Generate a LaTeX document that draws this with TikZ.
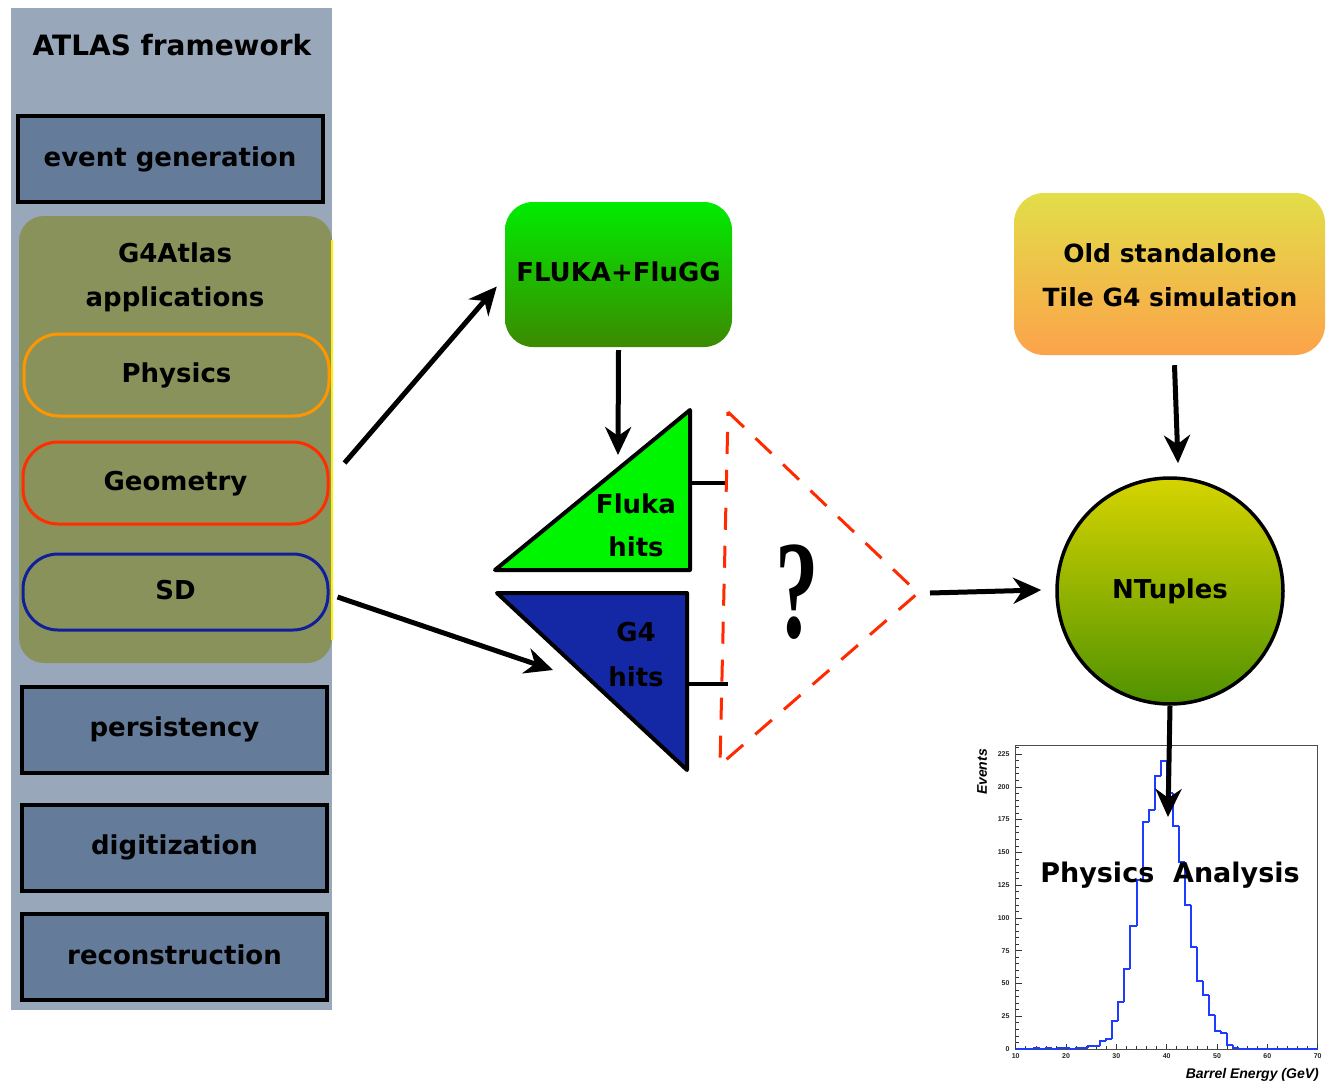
\documentclass[tikz,border=0pt]{standalone}
\usepackage{fontspec}
\setmainfont{DejaVu Sans}
\newfontfamily\hel{Liberation Sans}
\newfontfamily\qfont{Liberation Serif}
\usetikzlibrary{arrows.meta,calc}
\definecolor{panelbg}{RGB}{152,167,186}
\definecolor{boxbg}{RGB}{100,124,154}
\definecolor{olivebg}{RGB}{138,146,92}
\definecolor{physc}{RGB}{255,150,0}
\definecolor{geomc}{RGB}{255,45,0}
\definecolor{sdc}{RGB}{16,32,154}
\definecolor{flukatop}{RGB}{0,236,0}
\definecolor{flukabot}{RGB}{60,138,0}
\definecolor{oldtop}{RGB}{226,222,72}
\definecolor{oldbot}{RGB}{252,163,74}
\definecolor{ntop}{RGB}{214,212,0}
\definecolor{nbot}{RGB}{80,146,0}
\definecolor{trigreen}{RGB}{0,245,0}
\definecolor{triblue}{RGB}{20,40,166}
\definecolor{dashred}{RGB}{255,42,0}
\definecolor{histblue}{RGB}{30,60,255}
\tikzset{
  lbl/.style={font=\fontsize{26}{30}\selectfont\bfseries, inner sep=0pt, text height=19pt, text depth=5pt},
  fwbox/.style={draw=black, line width=4pt, fill=boxbg, minimum width=305pt, minimum height=86pt, lbl},
  subbox/.style={draw, line width=3pt, fill=olivebg, rounded corners=35pt, minimum width=305pt, lbl},
  arr/.style={line width=5pt, -{Stealth[length=28pt,width=26pt,inset=9pt]}},
  tick/.style={line width=0.6pt, black!80},
  ticklbl/.style={font=\hel\bfseries\fontsize{7}{8}\selectfont, inner sep=0pt, black!85}
}
\begin{document}
\begin{tikzpicture}[x=1pt,y=-1pt]
\useasboundingbox (0,0) rectangle (1333,1084);
\fill[white] (0,0) rectangle (1333,1084);

% left panel
\fill[panelbg] (11,8) rectangle (332,1010);
\node[lbl, font=\fontsize{28}{32}\selectfont\bfseries] (atlas) at (172,48) {ATLAS framework};
\node[fwbox] (evgen) at (170,159) {event generation};
\node[fill=olivebg, rounded corners=25pt, minimum width=313pt, minimum height=447pt, inner sep=0pt] (g4box) at (175.5,439.5) {};
\draw[yellow, line width=1.5pt] (332,240) -- (332,640);
\node[lbl] (g4txt1) at (175,255) {G4Atlas};
\node[lbl] (g4txt2) at (175,299) {applications};
\node[subbox, draw=physc, minimum height=82pt] (phys) at (176.5,375) {Physics};
\node[subbox, draw=geomc, minimum height=82pt] (geom) at (175.5,483) {Geometry};
\node[subbox, draw=sdc, minimum height=76pt] (sd) at (175.5,592) {SD};
\node[fwbox] (pers) at (174.5,729.5) {persistency};
\node[fwbox] (digi) at (174.5,847.5) {digitization};
\node[fwbox] (reco) at (174.5,957) {reconstruction};

% FLUKA box
\node[lbl, rounded corners=28pt, top color=flukatop, bottom color=flukabot, minimum width=227pt, minimum height=145pt] (fluka) at (618.5,274.5) {FLUKA+FluGG};

% Old standalone
\node[rounded corners=30pt, top color=oldtop, bottom color=oldbot, minimum width=311pt, minimum height=162pt] (old) at (1169.5,274) {};
\node[lbl, font=\fontsize{25}{30}\selectfont\bfseries] (old1) at (1170,255) {Old standalone};
\node[lbl, font=\fontsize{25}{30}\selectfont\bfseries] (old2) at (1170,299) {Tile G4 simulation};

% NTuples
\node[lbl, circle, draw=black, line width=3.5pt, top color=ntop, bottom color=nbot, minimum size=226pt] (ntup) at (1170,591) {NTuples};

% triangles
\draw[line width=4pt, fill=trigreen, line join=round] (495,570) -- (690,410) -- (690,570) -- cycle;
\node[lbl] (flk1) at (636,506) {Fluka};
\node[lbl] (flk2) at (636,549) {hits};
\draw[line width=4pt, fill=triblue, line join=round] (497,593) -- (687,593) -- (687,770) -- cycle;
\node[lbl] (g41) at (636,634) {G4};
\node[lbl] (g42) at (636,679) {hits};
\coordinate (stubA0) at (690,483);
\coordinate (stubA1) at (728,483);
\coordinate (stubB0) at (687,684);
\coordinate (stubB1) at (728,684);
\draw[line width=4pt] (stubA0) -- (stubA1);
\draw[line width=4pt] (stubB0) -- (stubB1);

% red dashed triangle
\coordinate (qtop) at (728,412);
\coordinate (qapex) at (918,593);
\coordinate (qbot) at (720,765);
\draw[dashred, line width=3pt, dash pattern=on 22pt off 16pt] (qtop) -- (qapex) -- (qbot) -- cycle;
\node[inner sep=0pt, xscale=0.62, font=\qfont\bfseries\fontsize{140}{140}\selectfont] (qm) at (797,592) {?};

% histogram
\begin{scope}[shift={(1015.7,1049)}, x=5.033pt, y=1.311pt]
  \draw[line width=0.7pt, black!70] (0,0) rectangle (60,232);
  \foreach \v in {0,25,...,225} {
    \draw[tick] (0,\v) -- ++(1.2,0);
    \node[ticklbl, anchor=east] (yl\v) at (-1.2,\v) {\v};
  }
  \foreach \v in {5,10,...,230} \draw[tick] (0,\v) -- ++(0.6,0);
  \foreach \e in {10,20,...,70} {
    \pgfmathtruncatemacro{\ex}{\e-10}
    \draw[tick] (\ex,0) -- ++(0,4);
    \node[ticklbl, anchor=north] (xl\e) at (\ex,-3) {\e};
  }
  \foreach \e in {2,4,...,58} \draw[tick] (\e,0) -- ++(0,2);
  \foreach \v [count=\k from 0, remember=\v as \pv (initially 0)] in {0,0,0,1,0,1,0,1,1,0,1,1,2,2,6,8,21,36,61,94,129,173,182,208,220,195,170,143,110,78,52,41,26,14,12,3,1,0,0,0,0,0,0,0,0,0,0,0,0,0} {
    \draw[histblue, line width=2pt, line cap=square] (1.2*\k,\pv) -- (1.2*\k,\v) -- (1.2*\k+1.2,\v);
  }
\end{scope}
\node[font=\hel\bfseries\itshape\fontsize{14}{14}\selectfont, rotate=90, inner sep=0pt] (evts) at (982,772) {Events};
\node[font=\hel\bfseries\itshape\fontsize{14}{14}\selectfont, anchor=east, inner sep=0pt] (barrel) at (1319,1075) {Barrel Energy (GeV)};
\node[lbl, font=\fontsize{27}{30}\selectfont\bfseries] (phan) at (1170,875) {Physics\ \ Analysis};

% arrows
\coordinate (a1s) at ($(geom.east)+(15,-20)$);
\coordinate (a1e) at ($(fluka.west)+(-8,12)$);
\draw[arr] (a1s) -- (a1e);
\coordinate (a2s) at ($(sd.east)+(8,5)$);
\coordinate (g4in) at (553,670);
\draw[arr] (a2s) -- (g4in);
\coordinate (a3s) at ($(fluka.south)+(0,3)$);
\coordinate (flukain) at (618,455);
\draw[arr] (a3s) -- (flukain);
\coordinate (a4s) at ($(qapex)+(12,0)$);
\coordinate (a4e) at ($(ntup.west)+(-14,-1)$);
\draw[arr] (a4s) -- (a4e);
\coordinate (a5s) at ($(old.south)+(5,10)$);
\coordinate (a5e) at ($(ntup.north)+(8,-13)$);
\draw[arr] (a5s) -- (a5e);
\coordinate (a6e) at (1168,817);
\draw[arr] (ntup.south) -- (a6e);
\end{tikzpicture}
\end{document}
